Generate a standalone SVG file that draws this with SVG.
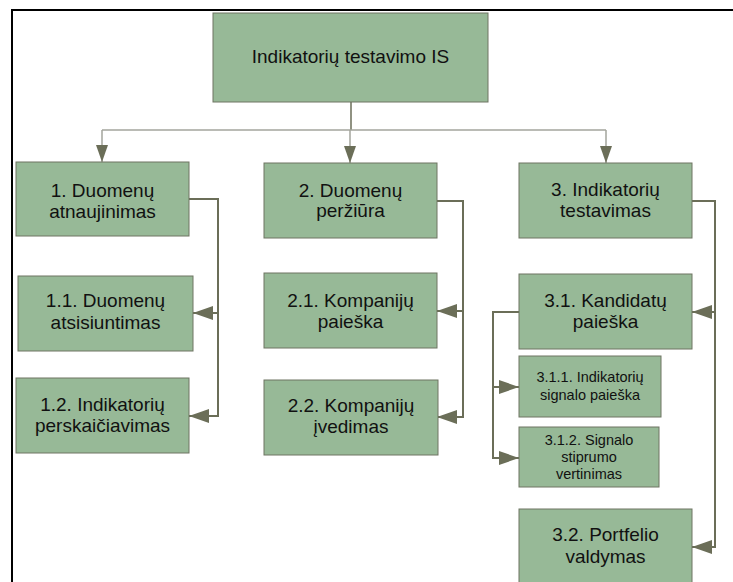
<svg xmlns="http://www.w3.org/2000/svg" width="733" height="582" viewBox="0 0 733 582">
  <defs>
    <marker id="arrowDown" viewBox="0 0 17 12" refX="17" refY="6" markerWidth="17" markerHeight="12" markerUnits="userSpaceOnUse" orient="auto">
      <path d="M0,0 L17,6 L0,12 Z" fill="#6b6e58"/>
    </marker>
    <marker id="arrowSide" viewBox="0 0 20 14" refX="20" refY="7" markerWidth="20" markerHeight="14" markerUnits="userSpaceOnUse" orient="auto">
      <path d="M0,0 L20,7 L0,14 Z" fill="#6b6e58"/>
    </marker>
  </defs>
  <style>
    .box { fill: #97b997; stroke: #6e7462; stroke-width: 1; }
    .t { font-family: "Liberation Sans", Arial, sans-serif; font-size: 19px; fill: #111; text-anchor: middle; }
    .ts { font-family: "Liberation Sans", Arial, sans-serif; font-size: 14.5px; fill: #111; text-anchor: middle; }
    .bus { fill: none; stroke: #a3a59c; stroke-width: 1.5; }
    .bus-dark { fill: none; stroke: #6b6e58; stroke-width: 1.5; }
    .link { fill: none; stroke: #6b6e58; stroke-width: 2; }
  </style>

  <rect width="733" height="582" fill="#ffffff"/>
  <!-- page frame -->
  <path d="M12,582 V10 H733" fill="none" stroke="#000" stroke-width="2"/>

  <g id="connectors">
    <path class="bus-dark" d="M351,102 V130"/>
    <path class="bus" d="M102,130 H606"/>
    <path class="bus" d="M102,130 V162" marker-end="url(#arrowDown)"/>
    <path class="bus" d="M350,130 V163" marker-end="url(#arrowDown)"/>
    <path class="bus" d="M606,130 V163" marker-end="url(#arrowDown)"/>

    <path class="link" d="M189,199 H218 V416 H189" marker-end="url(#arrowSide)"/>
    <path class="link" d="M218,313 H193" marker-end="url(#arrowSide)"/>

    <path class="link" d="M437,201 H463 V417 H437" marker-end="url(#arrowSide)"/>
    <path class="link" d="M463,311 H437" marker-end="url(#arrowSide)"/>

    <path class="link" d="M692,201 H715 V547 H692" marker-end="url(#arrowSide)"/>
    <path class="link" d="M715,312 H692" marker-end="url(#arrowSide)"/>

    <path class="link" d="M519,312 H493 V458 H519" marker-end="url(#arrowSide)"/>
    <path class="link" d="M493,387 H519" marker-end="url(#arrowSide)"/>
  </g>

  <g id="root">
    <rect class="box" x="213" y="13" width="275" height="89"/>
    <text class="t" x="350.5" y="63">Indikatorių testavimo IS</text>
  </g>

  <g id="n1">
    <rect class="box" x="16" y="162" width="173" height="74"/>
    <text class="t" x="102.5" y="197">1. Duomenų</text>
    <text class="t" x="102.5" y="218">atnaujinimas</text>
  </g>
  <g id="n1-1">
    <rect class="box" x="18" y="276" width="175" height="75"/>
    <text class="t" x="105.5" y="307">1.1. Duomenų</text>
    <text class="t" x="105.5" y="329">atsisiuntimas</text>
  </g>
  <g id="n1-2">
    <rect class="box" x="16" y="378" width="173" height="75"/>
    <text class="t" x="102.5" y="411">1.2. Indikatorių</text>
    <text class="t" x="102.5" y="432">perskaičiavimas</text>
  </g>

  <g id="n2">
    <rect class="box" x="264" y="163" width="173" height="75"/>
    <text class="t" x="350.5" y="197">2. Duomenų</text>
    <text class="t" x="350.5" y="217">peržiūra</text>
  </g>
  <g id="n2-1">
    <rect class="box" x="264" y="273" width="173" height="75"/>
    <text class="t" x="350.5" y="307">2.1. Kompanijų</text>
    <text class="t" x="350.5" y="328">paieška</text>
  </g>
  <g id="n2-2">
    <rect class="box" x="264" y="380" width="174" height="75"/>
    <text class="t" x="351" y="412">2.2. Kompanijų</text>
    <text class="t" x="351" y="433">įvedimas</text>
  </g>

  <g id="n3">
    <rect class="box" x="519" y="163" width="173" height="75"/>
    <text class="t" x="605.5" y="196">3. Indikatorių</text>
    <text class="t" x="605.5" y="217">testavimas</text>
  </g>
  <g id="n3-1">
    <rect class="box" x="519" y="274" width="173" height="75"/>
    <text class="t" x="605.5" y="307">3.1. Kandidatų</text>
    <text class="t" x="605.5" y="328">paieška</text>
  </g>
  <g id="n3-1-1">
    <rect class="box" x="519" y="356" width="142" height="61"/>
    <text class="ts" x="590" y="382">3.1.1. Indikatorių</text>
    <text class="ts" x="590" y="399.5">signalo paieška</text>
  </g>
  <g id="n3-1-2">
    <rect class="box" x="519" y="427" width="140" height="60"/>
    <text class="ts" x="589" y="445">3.1.2. Signalo</text>
    <text class="ts" x="589" y="462">stiprumo</text>
    <text class="ts" x="589" y="479">vertinimas</text>
  </g>
  <g id="n3-2">
    <rect class="box" x="519" y="509" width="173" height="85"/>
    <text class="t" x="605.5" y="541">3.2. Portfelio</text>
    <text class="t" x="605.5" y="563">valdymas</text>
  </g>
</svg>
